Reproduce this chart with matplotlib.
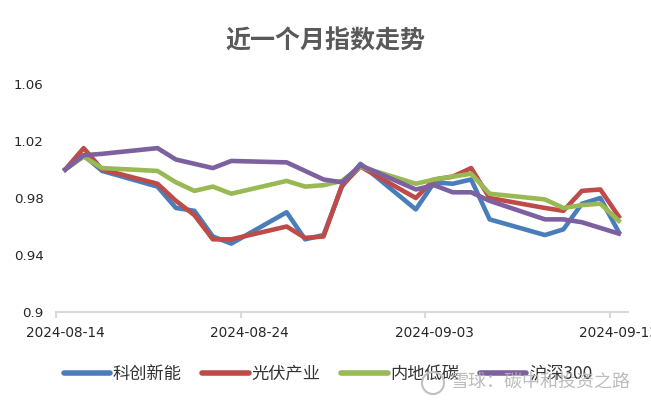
import pandas as pd
import matplotlib
matplotlib.use('Agg')
import matplotlib.pyplot as plt
import matplotlib.dates as mdates
from matplotlib.font_manager import FontProperties
from matplotlib.patches import Circle

dates = pd.to_datetime([
    '2024-08-14', '2024-08-15', '2024-08-16', '2024-08-19', '2024-08-20',
    '2024-08-21', '2024-08-22', '2024-08-23', '2024-08-26', '2024-08-27',
    '2024-08-28', '2024-08-29', '2024-08-30', '2024-09-02', '2024-09-03',
    '2024-09-04', '2024-09-05', '2024-09-06', '2024-09-09', '2024-09-10',
    '2024-09-11', '2024-09-12', '2024-09-13'])

kechuang = [1.000, 1.010, 0.999, 0.988, 0.973, 0.971, 0.953, 0.948, 0.970, 0.951,
            0.954, 0.988, 1.004, 0.972, 0.991, 0.990, 0.993, 0.965, 0.954, 0.958,
            0.976, 0.980, 0.956]
guangfu = [1.000, 1.015, 1.000, 0.990, 0.978, 0.968, 0.951, 0.951, 0.960, 0.952,
           0.953, 0.989, 1.002, 0.980, 0.993, 0.995, 1.001, 0.980, 0.973, 0.971,
           0.985, 0.986, 0.967]
neidi = [1.000, 1.009, 1.001, 0.999, 0.991, 0.985, 0.988, 0.983, 0.992, 0.988,
         0.989, 0.992, 1.002, 0.990, 0.993, 0.995, 0.997, 0.983, 0.979, 0.973,
         0.975, 0.976, 0.964]
hs300 = [1.000, 1.010, 1.011, 1.015, 1.007, 1.004, 1.001, 1.006, 1.005, 0.999,
         0.993, 0.991, 1.003, 0.986, 0.989, 0.984, 0.984, 0.978, 0.965, 0.965,
         0.963, 0.959, 0.955]

names = ['科创新能', '光伏产业', '内地低碳', '沪深300']
colors = ['#4a7ebb', '#be4b48', '#98b954', '#7d60a0']
yticks = [0.9, 0.94, 0.98, 1.02, 1.06]
ytick_labels = ['0.9', '0.94', '0.98', '1.02', '1.06']
xtick_dates = pd.to_datetime(['2024-08-14', '2024-08-24', '2024-09-03', '2024-09-13'])

cjk = ['Noto Sans CJK SC', 'DejaVu Sans']
plt.rcParams['font.family'] = ['DejaVu Sans']

fig = plt.figure(figsize=(6.51, 4.03), dpi=100)
ax = fig.add_axes([56 / 651, 1 - 312 / 403, (628 - 56) / 651, (312 - 84) / 403])

x = mdates.date2num(dates)
for vals, c, lab in zip([kechuang, guangfu, neidi, hs300], colors, names):
    ax.plot(x, vals, color=c, lw=3.3, label=lab, solid_joinstyle='round')

x0 = mdates.date2num(dates[0])
ax.set_xlim(x0 - 0.5, x0 + 30.5)
ax.set_ylim(0.9, 1.06)

xt = mdates.date2num(xtick_dates)
ax.set_xticks(xt)
ax.set_xticklabels([d.strftime('%Y-%m-%d') for d in xtick_dates])
ax.set_xticks(xt - 0.5, minor=True)
ax.set_yticks(yticks)
ax.set_yticklabels(ytick_labels)

for s in ['top', 'right', 'left']:
    ax.spines[s].set_visible(False)
ax.spines['bottom'].set_color('#d9d9d9')
ax.spines['bottom'].set_linewidth(1.5)

ax.tick_params(axis='x', which='major', length=0, pad=10, labelsize=9.8, labelcolor='#262626')
ax.tick_params(axis='x', which='minor', length=4, width=1.5, color='#d9d9d9')
ax.tick_params(axis='y', length=0, pad=9, labelsize=9.6, labelcolor='#262626')

fig.text(0.5, 1 - 42 / 403, '近一个月指数走势', ha='center', va='center',
         fontsize=18, fontweight='bold', color='#595959', family=cjk)

leg = fig.legend(loc='center', bbox_to_anchor=(328 / 651, 1 - 374 / 403), ncol=4,
                 frameon=False, prop=FontProperties(family=cjk, size=12.4),
                 handlelength=2.7, handletextpad=0.15, columnspacing=1.2)
for line in leg.get_lines():
    line.set_linewidth(4)
    line.set_solid_capstyle('round')
for t in leg.get_texts():
    t.set_color('#333333')

fig.text(451 / 651, 1 - 383 / 403, '雪球：碳中和投资之路', ha='left', va='center',
         fontsize=13, color='#b5b5b5', alpha=0.9, family=cjk, zorder=10)
fig.add_artist(Circle((4.33, 0.20), 0.11, transform=fig.dpi_scale_trans,
                      facecolor='none', edgecolor='#c0c0c0', lw=1.5, zorder=10))

fig.savefig('out.png', dpi=100)
